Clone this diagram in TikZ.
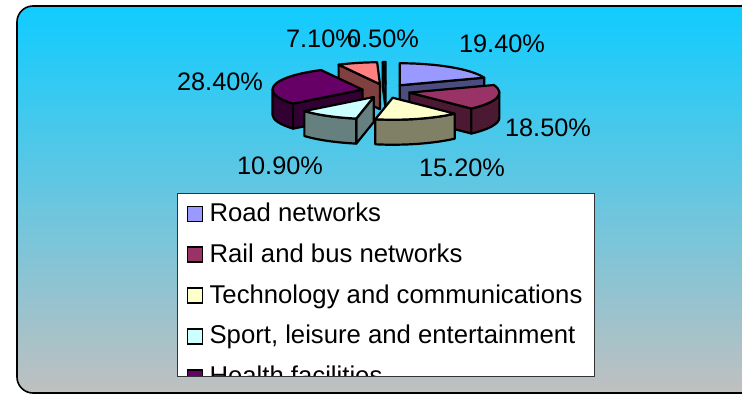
\documentclass[tikz,border=0pt]{standalone}
\usepackage{fontspec}
\setmainfont{Liberation Sans}
\usetikzlibrary{positioning}

\definecolor{roadcol}{HTML}{9999FF}
\definecolor{railcol}{HTML}{993366}
\definecolor{techcol}{HTML}{FFFFCC}
\definecolor{sportcol}{HTML}{CCFFFF}
\definecolor{healthcol}{HTML}{660066}
\definecolor{sevencol}{HTML}{FF8080}
\definecolor{halfcol}{HTML}{0066CC}
\definecolor{frametop}{RGB}{16,204,255}
\definecolor{framebottom}{RGB}{192,192,192}

\tikzset{
    pie top/.style = {
        fill = #1,
        draw = black,
        line width = 2.2pt,
        line join = round,
        },
    pie side/.style = {
        fill = #1!50!black,
        draw = black,
        line width = 2.2pt,
        line join = round,
        },
    pct/.style = {
        font = \fontsize{25.3}{30}\selectfont,
        inner sep = 0pt,
        },
    key/.style = {
        draw = black,
        line width = 1.8pt,
        minimum size = 15pt,
        inner sep = 0pt,
        fill = #1,
        },
    key text/.style = {
        font = \fontsize{25.7}{30}\selectfont,
        inner sep = 0pt,
        text height = 18pt,
        text depth = 3pt,
        },
}

\begin{document}
\begin{tikzpicture}[x=1pt, y=1pt]
    \useasboundingbox (0,0) rectangle (742,-394);
    \clip (0,0) rectangle (742,-394);

    % frame
    \shade[top color=frametop, bottom color=framebottom, rounded corners=16pt]
        (17,-6) rectangle (760,-393);
    \draw[line width=1.6pt, rounded corners=16pt] (17,-6) rectangle (760,-393);

    % pie, back slices first
    \begin{scope}[shift={(386,-91)}]
        % 0.5%
        \begin{scope}[shift={(-269.1:24 and 7)}]
            \draw[pie side=halfcol] (0,0) -- (91.8:90 and 22) -- ++(0,-25) -- (0,-25) -- cycle;
            \draw[pie top=halfcol] (0,0) -- (90:90 and 22)
                arc[start angle=90, end angle=91.8, x radius=90, y radius=22] -- cycle;
        \end{scope}
        % 7.1%
        \begin{scope}[shift={(-255.42:24 and 7)}]
            \draw[pie side=sevencol] (0,0) -- (117.36:90 and 22) -- ++(0,-25) -- (0,-25) -- cycle;
            \draw[pie top=sevencol] (0,0) -- (91.8:90 and 22)
                arc[start angle=91.8, end angle=117.36, x radius=90, y radius=22] -- cycle;
        \end{scope}
        % road networks
        \begin{scope}[shift={(55.08:24 and 7)}]
            \draw[pie side=roadcol] (0,0) -- (20.16:90 and 22) -- ++(0,-25) -- (0,-25) -- cycle;
            \draw[pie top=roadcol] (0,0) -- (20.16:90 and 22)
                arc[start angle=20.16, end angle=90, x radius=90, y radius=22] -- cycle;
        \end{scope}
        % health facilities
        \begin{scope}[shift={(-191.52:24 and 7)}]
            \draw[pie side=healthcol] (-180:90 and 22)
                arc[start angle=-180, end angle=-140.4, x radius=90, y radius=22]
                -- ++(0,-25) arc[start angle=-140.4, end angle=-180, x radius=90, y radius=22] -- cycle;
            \draw[pie side=healthcol] (0,0) -- (-140.4:90 and 22) -- ++(0,-25) -- (0,-25) -- cycle;
            \draw[pie top=healthcol] (0,0) -- (-242.64:90 and 22)
                arc[start angle=-242.64, end angle=-140.4, x radius=90, y radius=22] -- cycle;
        \end{scope}
        % rail and bus networks
        \begin{scope}[shift={(-13.14:24 and 7)}]
            \draw[pie side=railcol] (0,0) -- (-46.44:90 and 22) -- ++(0,-25) -- (0,-25) -- cycle;
            \draw[pie side=railcol] (-46.44:90 and 22)
                arc[start angle=-46.44, end angle=0, x radius=90, y radius=22]
                -- ++(0,-25) arc[start angle=0, end angle=-46.44, x radius=90, y radius=22] -- cycle;
            \draw[pie top=railcol] (0,0) -- (-46.44:90 and 22)
                arc[start angle=-46.44, end angle=20.16, x radius=90, y radius=22] -- cycle;
        \end{scope}
        % sport, leisure and entertainment
        \begin{scope}[shift={(-120.78:24 and 7)}]
            \draw[pie side=sportcol] (0,0) -- (-101.16:90 and 22) -- ++(0,-25) -- (0,-25) -- cycle;
            \draw[pie side=sportcol] (-140.4:90 and 22)
                arc[start angle=-140.4, end angle=-101.16, x radius=90, y radius=22]
                -- ++(0,-25) arc[start angle=-101.16, end angle=-140.4, x radius=90, y radius=22] -- cycle;
            \draw[pie top=sportcol] (0,0) -- (-140.4:90 and 22)
                arc[start angle=-140.4, end angle=-101.16, x radius=90, y radius=22] -- cycle;
        \end{scope}
        % technology and communications
        \begin{scope}[shift={(-73.8:24 and 7)}]
            \draw[pie side=techcol] (-101.16:90 and 22)
                arc[start angle=-101.16, end angle=-46.44, x radius=90, y radius=22]
                -- ++(0,-25) arc[start angle=-46.44, end angle=-101.16, x radius=90, y radius=22] -- cycle;
            \draw[pie top=techcol] (0,0) -- (-101.16:90 and 22)
                arc[start angle=-101.16, end angle=-46.44, x radius=90, y radius=22] -- cycle;
        \end{scope}
    \end{scope}

    % percentages
    \node[pct] (pctseven) at (322,-39) {7.10\%};
    \node[pct] (pcthalf) at (383,-39) {0.50\%};
    \node[pct] (pctroad) at (502,-44) {19.40\%};
    \node[pct] (pcthealth) at (220,-82) {28.40\%};
    \node[pct] (pctrail) at (548,-128) {18.50\%};
    \node[pct] (pcttech) at (462,-168) {15.20\%};
    \node[pct] (pctsport) at (280,-166) {10.90\%};

    % legend
    \fill[white] (177,-193) rectangle (594,-376);
    \begin{scope}
        \clip (177,-193) rectangle (594,-376);
        \node[key=roadcol] (keyroad) at (195,-214) {};
        \node[key=railcol, below=24pt of keyroad] (keyrail) {};
        \node[key=techcol, below=24pt of keyrail] (keytech) {};
        \node[key=sportcol, below=24pt of keytech] (keysport) {};
        \node[key=healthcol, below=24pt of keysport] (keyhealth) {};
        \node[key text, right=6pt of keyroad] (txtroad) {Road networks};
        \node[key text, right=6pt of keyrail] (txtrail) {Rail and bus networks};
        \node[key text, right=6pt of keytech] (txttech) {Technology and communications};
        \node[key text, right=6pt of keysport] (txtsport) {Sport, leisure and entertainment};
        \node[key text, right=6pt of keyhealth] (txthealth) {Health facilities};
    \end{scope}
    \draw[black!80, line width=1pt] (177,-193) rectangle (594,-376);
\end{tikzpicture}
\end{document}
